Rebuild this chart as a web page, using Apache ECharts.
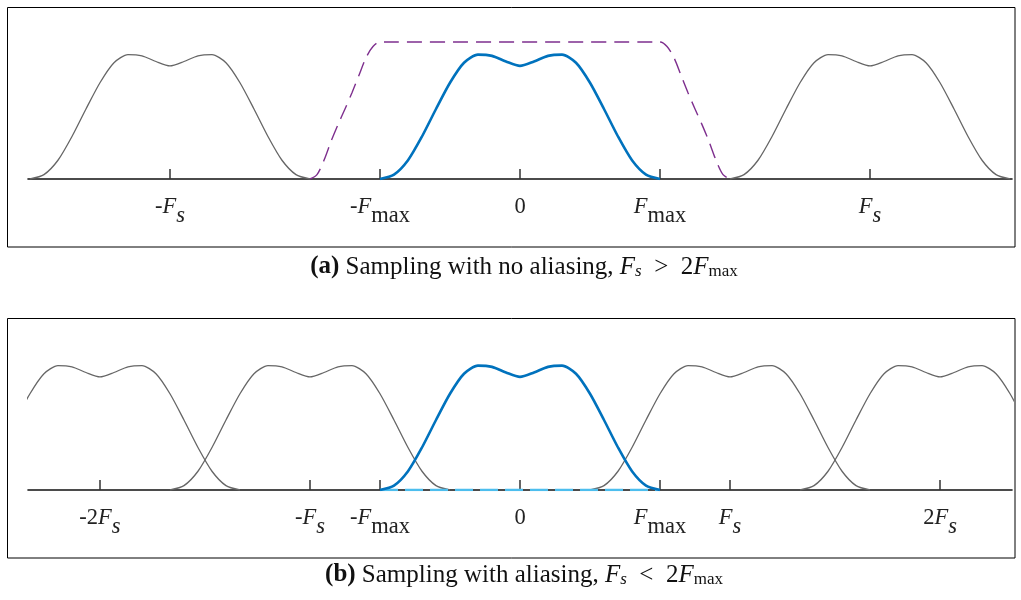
<!DOCTYPE html>
<html><head><meta charset="utf-8">
<script src="https://cdn.jsdelivr.net/npm/echarts@6/dist/echarts.min.js"></script>
<style>html,body{margin:0;padding:0;background:#fff}#c{width:1021px;height:600px}</style>
</head><body><div id="c"></div>
<script>
// Spectrum shape (frequency in units of Fmax, relative height)
const shapeU = [-1, -0.9, -0.8, -0.7, -0.6, -0.5, -0.4, -0.3, -0.2, -0.1, 0, 0.1, 0.2, 0.3, 0.4, 0.5, 0.6, 0.7, 0.8, 0.9, 1];
const shapeH = [0, 0.035, 0.15, 0.34, 0.56, 0.77, 0.93, 0.995, 0.985, 0.94, 0.905, 0.94, 0.985, 0.995, 0.93, 0.77, 0.56, 0.34, 0.15, 0.035, 0];
// Anti-aliasing filter (dashed purple)
const filterU = [-1.5, -1.45, -1.4, -1.35, -1.3, -1.25, -1.2, -1.15, -1.1, -1.05, -1, 1, 1.05, 1.1, 1.15, 1.2, 1.25, 1.3, 1.35, 1.4, 1.45, 1.5];
const filterH = [0, 0.035, 0.15, 0.30, 0.435, 0.56, 0.69, 0.83, 0.97, 1.06, 1.096, 1.096, 1.06, 0.97, 0.83, 0.69, 0.56, 0.435, 0.30, 0.15, 0.035, 0];
// Panel (a): Fs = 2.5 Fmax ; Panel (b): Fs = 1.5 Fmax
const copiesA = [-2.5, 2.5];
const copiesB = [-3, -1.5, 1.5, 3];
const ticksA = [-2.5, -1, 0, 1, 2.5];
const labelsA = ['{n|-}{i|F}{si|s}', '{n|-}{i|F}{sm|max}', '{n|0}', '{i|F}{sm|max}', '{i|F}{si|s}'];
const ticksB = [-3, -1.5, -1, 0, 1, 1.5, 3];
const labelsB = ['{n|-2}{i|F}{si|s}', '{n|-}{i|F}{si|s}', '{n|-}{i|F}{sm|max}', '{n|0}', '{i|F}{sm|max}', '{i|F}{si|s}', '{n|2}{i|F}{si|s}'];
const captionA = '{b|(a)} Sampling with no aliasing, {i|F}{si|s}\u2002>\u20022{i|F}{sm|max}';
const captionB = '{b|(b)} Sampling with aliasing, {i|F}{si|s}\u2002<\u20022{i|F}{sm|max}';

const chart = echarts.init(document.getElementById('c'), null, {renderer: 'canvas'});
const FF = 'Liberation Serif';
const FS = 22.5;
const LH = 32;
const tickRich = {
  n: {fontFamily: FF, fontSize: FS, color: '#222', verticalAlign: 'top', lineHeight: LH},
  i: {fontFamily: FF, fontSize: FS, fontStyle: 'italic', color: '#222', verticalAlign: 'top', lineHeight: LH},
  si: {fontFamily: FF, fontSize: FS, fontStyle: 'italic', color: '#222', verticalAlign: 'bottom', lineHeight: LH},
  sm: {fontFamily: FF, fontSize: FS, color: '#222', verticalAlign: 'bottom', lineHeight: LH}
};
const CL = 26;
const CF = 25;
const capRich = {
  b: {fontFamily: FF, fontSize: CF, fontWeight: 'bold', color: '#111', lineHeight: CL},
  i: {fontFamily: FF, fontSize: CF, fontStyle: 'italic', color: '#111', lineHeight: CL},
  si: {fontFamily: FF, fontSize: 17, fontStyle: 'italic', color: '#111', verticalAlign: 'bottom', lineHeight: CL},
  sm: {fontFamily: FF, fontSize: 17, color: '#111', verticalAlign: 'bottom', lineHeight: CL}
};
function labelFor(ticks, labels) {
  return function (v) {
    for (let k = 0; k < ticks.length; k++) if (Math.abs(ticks[k] - v) < 1e-6) return labels[k];
    return '';
  };
}
function makeX(gi, ticks, labels) {
  return {
    gridIndex: gi, type: 'value', min: -3.514, max: 3.514,
    axisLine: {show: true, lineStyle: {color: '#111', width: 1.6}},
    axisTick: {show: true, customValues: ticks, inside: true, length: 10, lineStyle: {color: '#333', width: 1.5}},
    axisLabel: {show: true, customValues: ticks, formatter: labelFor(ticks, labels), margin: 17, rich: tickRich},
    splitLine: {show: false}
  };
}
function makeY(gi) {
  return {gridIndex: gi, type: 'value', min: 0, max: 1.2, show: false, splitLine: {show: false}};
}
function shifted(c) {
  return shapeU.map((u, k) => [c + u, shapeH[k]]);
}
const SM = 0.25;
const series = [];
copiesA.forEach(c => series.push({type: 'line', xAxisIndex: 0, yAxisIndex: 0, data: shifted(c), smooth: SM, showSymbol: false, lineStyle: {color: '#666', width: 1.3}, z: 2}));
series.push({type: 'line', xAxisIndex: 0, yAxisIndex: 0, data: filterU.map((u, k) => [u, filterH[k]]), smooth: 0.3, showSymbol: false, lineStyle: {color: '#7E2F8E', width: 1.4, type: [15, 8]}, z: 3});
series.push({type: 'line', xAxisIndex: 0, yAxisIndex: 0, data: shifted(0), smooth: SM, showSymbol: false, lineStyle: {color: '#0072BD', width: 2.6}, z: 4});
copiesB.forEach(c => series.push({type: 'line', xAxisIndex: 1, yAxisIndex: 1, data: shifted(c), smooth: SM, showSymbol: false, lineStyle: {color: '#666', width: 1.3}, z: 2}));
series.push({type: 'line', xAxisIndex: 1, yAxisIndex: 1, data: [[shapeU[0], 0], [shapeU[shapeU.length - 1], 0]], showSymbol: false, lineStyle: {color: '#4DBEEE', width: 2.6, type: [18, 7]}, z: 3});
series.push({type: 'line', xAxisIndex: 1, yAxisIndex: 1, data: shifted(0), smooth: SM, showSymbol: false, lineStyle: {color: '#0072BD', width: 2.6}, z: 4});

chart.setOption({
  animation: false,
  backgroundColor: '#fff',
  grid: [
    {left: 28, width: 984, top: 29, height: 150},
    {left: 28, width: 984, top: 340, height: 150}
  ],
  xAxis: [makeX(0, ticksA, labelsA), makeX(1, ticksB, labelsB)],
  yAxis: [makeY(0), makeY(1)],
  series: series,
  graphic: [
    {type: 'rect', shape: {x: 7.5, y: 7.5, width: 1007.5, height: 239.5}, style: {fill: 'none', stroke: '#000', lineWidth: 1}, silent: true},
    {type: 'rect', shape: {x: 7.5, y: 318.5, width: 1007.5, height: 239.5}, style: {fill: 'none', stroke: '#000', lineWidth: 1}, silent: true},
    {type: 'text', x: 524, y: 267, style: {text: captionA, rich: capRich, fontFamily: FF, fontSize: CF, fill: '#111', align: 'center', verticalAlign: 'middle', lineHeight: CL}, silent: true},
    {type: 'text', x: 524, y: 575, style: {text: captionB, rich: capRich, fontFamily: FF, fontSize: CF, fill: '#111', align: 'center', verticalAlign: 'middle', lineHeight: CL}, silent: true}
  ]
});
</script>
</body></html>
